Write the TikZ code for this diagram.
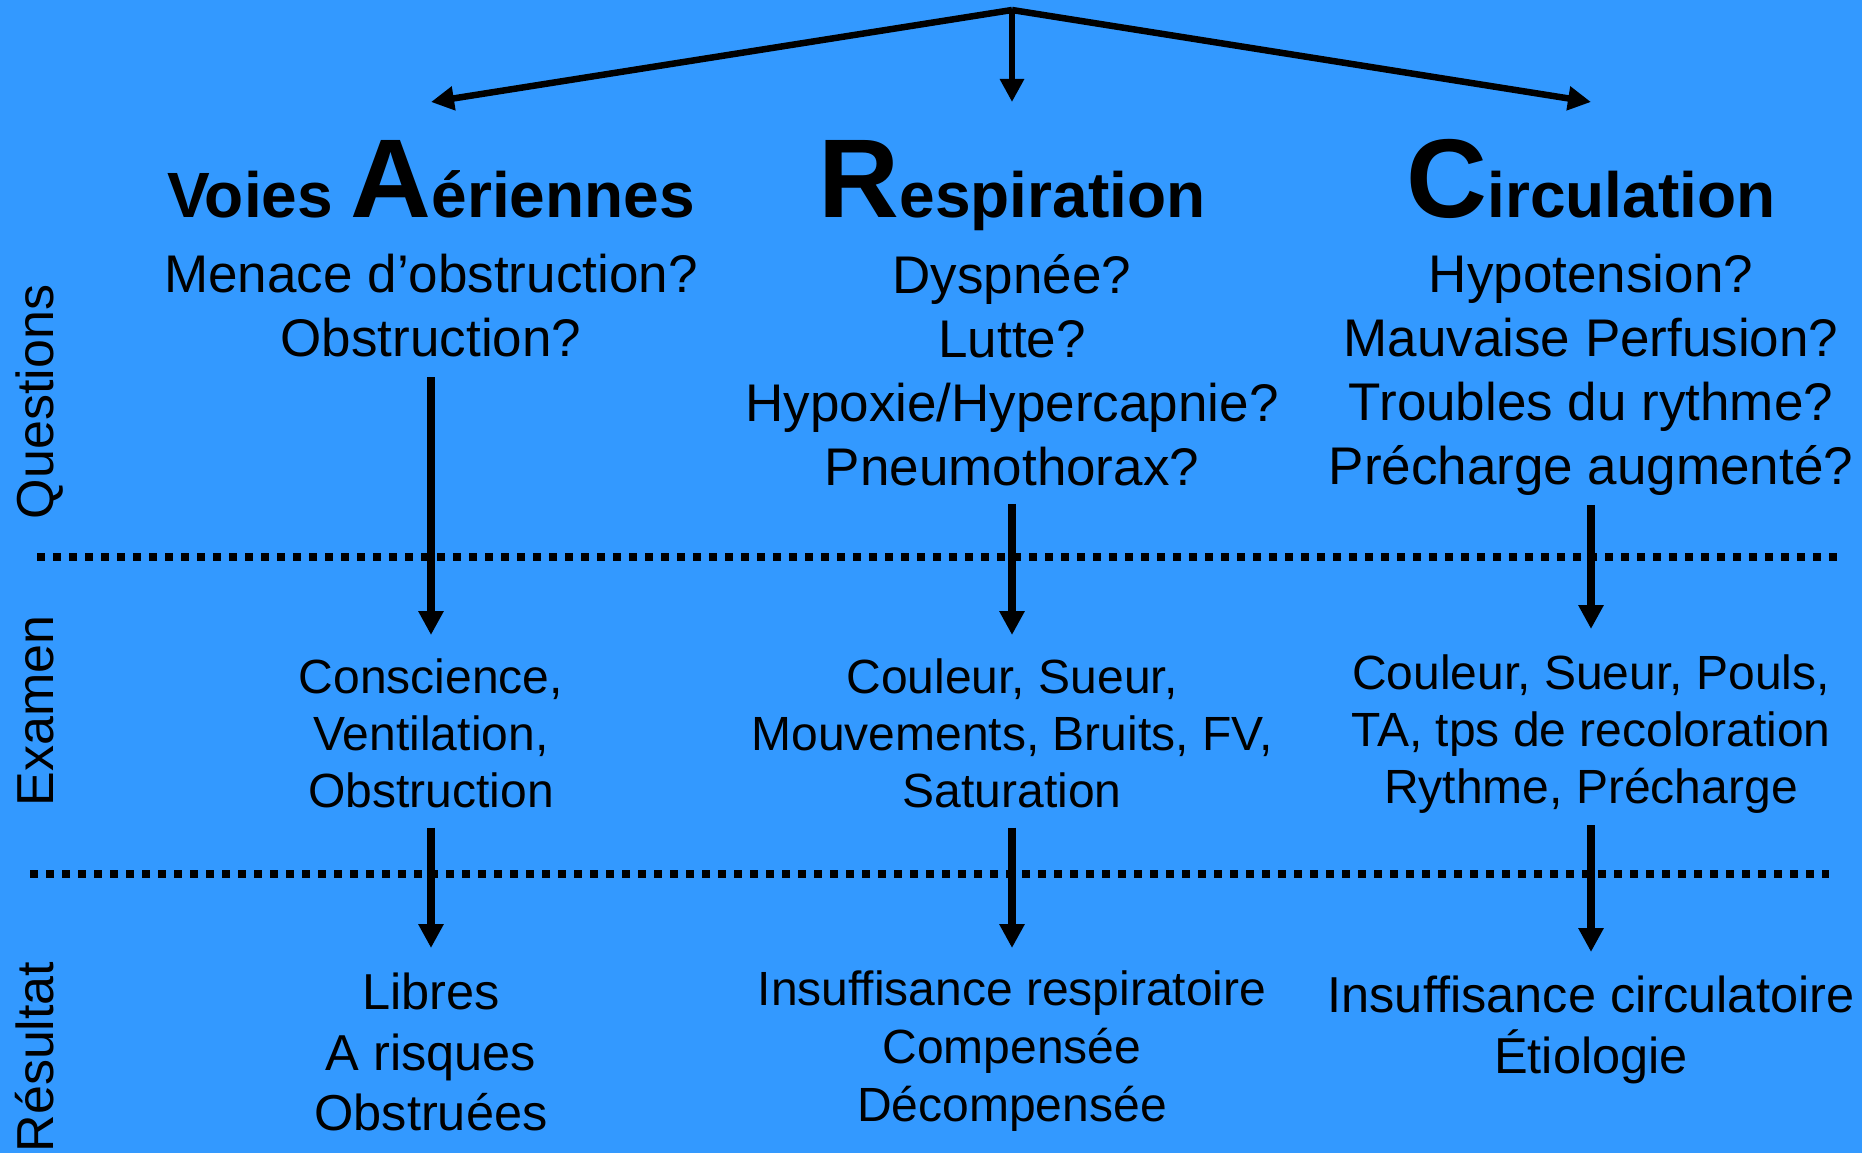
\documentclass[tikz,border=0pt]{standalone}
\usepackage{fontspec}
\setmainfont{Liberation Sans}
\usetikzlibrary{calc,arrows.meta,math}

\definecolor{fond}{HTML}{3399FF}

\tikzset{
    topline/.style={line width=6.5pt, -{Triangle[length=23pt,width=23pt]}},
    flow/.style={line width=8pt, -{Triangle[length=24pt,width=24pt]}},
    sep/.style={line width=8pt, dash pattern=on 8pt off 8pt},
    titre/.style={font=\bfseries\fontsize{64}{70}\selectfont, anchor=base, inner sep=0pt},
    quest/.style={font=\fontsize{53}{64}\selectfont, align=center, anchor=north, inner sep=0pt},
    exam/.style={font=\fontsize{48}{57}\selectfont, align=center, anchor=north, inner sep=0pt},
    res/.style={font=\fontsize{50.5}{60.5}\selectfont, align=center, anchor=north, inner sep=0pt},
    rubrique/.style={font=\fontsize{52}{60}\selectfont, rotate=90, anchor=base, inner sep=0pt}
}
\newcommand{\grande}[1]{{\fontsize{112}{120}\selectfont #1}}

\begin{document}
\begin{tikzpicture}[x=1pt, y=-1pt]
            \tikzmath{\colA = 431; \colR = 1012; \colC = 1591;}
            \useasboundingbox (0,0) rectangle (1862,1153);
            \fill[fond] (0,0) rectangle (1862,1153);

            % en-tete
            \coordinate (top) at (\colR,10);
            \coordinate (aA) at (\colA,102);
            \coordinate (aR) at (\colR,102);
            \coordinate (aC) at (\colC,102);
            \draw[topline] (top) -- (aA);
            \draw[topline] (top) -- (aR);
            \draw[topline] (top) -- (aC);

            \node[titre] (tA) at (\colA,217) {Voies \grande{A}ériennes};
            \node[titre] (tR) at (\colR,217) {\grande{R}espiration};
            \node[titre] (tC) at (\colC,217) {\grande{C}irculation};

            % questions
            \node[quest] (qA) at (\colA,254) {Menace d’obstruction?\\Obstruction?};
            \node[quest] (qR) at (\colR,254) {Dyspnée?\\Lutte?\\Hypoxie/Hypercapnie?\\Pneumothorax?};
            \node[quest] (qC) at (\colC,254) {Hypotension?\\Mauvaise Perfusion?\\Troubles du rythme?\\Précharge augmenté?};

            % examen
            \node[exam] (eA) at (\colA,659) {Conscience,\\Ventilation,\\Obstruction};
            \node[exam] (eR) at (\colR,659) {Couleur, Sueur,\\Mouvements, Bruits, FV,\\Saturation};
            \node[exam] (eC) at (\colC,655) {Couleur, Sueur, Pouls,\\TA, tps de recoloration\\Rythme, Précharge};

            % resultat
            \node[res] (rA) at (\colA,973) {Libres\\A risques\\Obstruées};
            \node[res, font=\fontsize{48}{58}\selectfont] (rR) at (\colR,971) {Insuffisance respiratoire\\Compensée\\Décompensée};
            \node[res] (rC) at (\colC,976) {Insuffisance circulatoire\\Étiologie};

            \node[rubrique] (lQ) at (53,402) {Questions};
            \node[rubrique] (lE) at (53,711) {Examen};
            \node[rubrique] (lR) at (53,1057) {Résultat};

            \draw[sep] (37,557) -- (1838,557);
            \draw[sep] (30,874) -- (1829,874);

            \draw[flow] ($(qA.south)+(0,20)$) -- ($(eA.north)+(0,-24)$);
            \draw[flow] ($(qR.south)+(0,18)$) -- ($(eR.north)+(0,-24)$);
            \draw[flow] ($(qC.south)+(0,9)$) -- ($(eC.north)+(0,-26)$);
            \draw[flow] ($(eA.south)+(0,19)$) -- ($(rA.north)+(0,-25)$);
            \draw[flow] ($(eR.south)+(0,19)$) -- ($(rR.north)+(0,-23)$);
            \draw[flow] ($(eC.south)+(0,11)$) -- ($(rC.north)+(0,-24)$);
        \end{tikzpicture}
\end{document}
